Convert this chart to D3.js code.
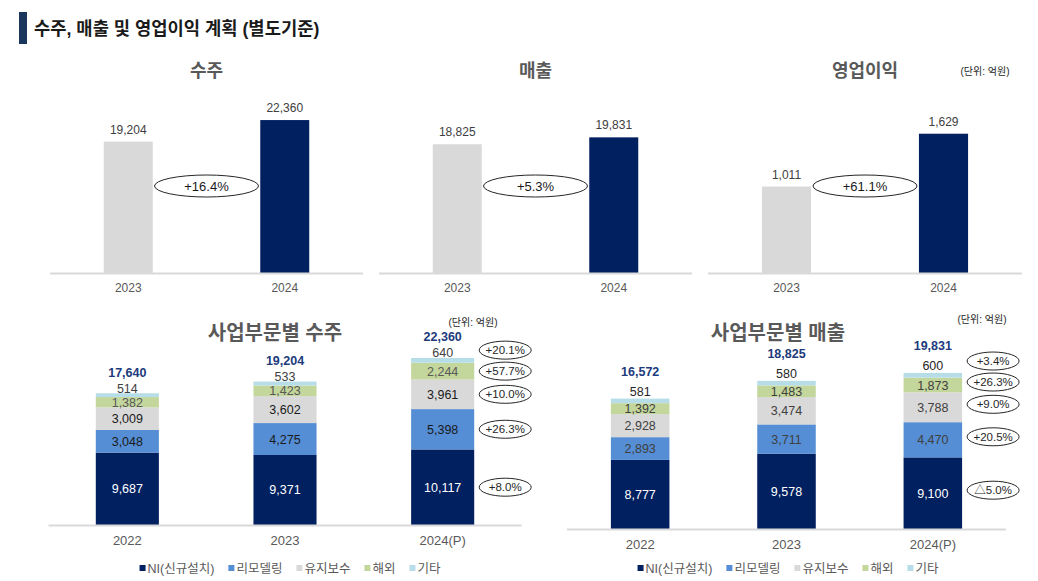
<!DOCTYPE html>
<html lang="ko">
<head>
    <meta charset="UTF-8">
    <title>수주, 매출 및 영업이익 계획</title>
    <script src="https://d3js.org/d3.v7.min.js"></script>
    <style>
        body { margin: 0; background: #fff; }
        text { font-family: "Liberation Sans", Arial, "Noto Sans CJK KR", sans-serif; }
    </style>
</head>
<body>
    <script>

    // top charts: 2023 vs 2024
    const topYears = ["2023", "2024"];
    const topTitles = ["수주", "매출", "영업이익"];
    const orderTop = [19204, 22360];
    const salesTop = [18825, 19831];
    const opTop = [1011, 1629];
    const topGrowth = ["+16.4%", "+5.3%", "+61.1%"];

    // bottom charts: by business segment
    const segYears = ["2022", "2023", "2024(P)"];
    const segNames = ["NI(신규설치)", "리모델링", "유지보수", "해외", "기타"];
    const segColors = ["#002060", "#558ED5", "#D9D9D9", "#C3D69B", "#B7DEE8"];

    const orderNI = [9687, 9371, 10117];
    const orderRemodel = [3048, 4275, 5398];
    const orderMaint = [3009, 3602, 3961];
    const orderOverseas = [1382, 1423, 2244];
    const orderEtc = [514, 533, 640];
    const orderTotals = [17640, 19204, 22360];
    const orderGrowth = ["+8.0%", "+26.3%", "+10.0%", "+57.7%", "+20.1%"];

    const salesNI = [8777, 9578, 9100];
    const salesRemodel = [2893, 3711, 4470];
    const salesMaint = [2928, 3474, 3788];
    const salesOverseas = [1392, 1483, 1873];
    const salesEtc = [581, 580, 600];
    const salesTotals = [16572, 18825, 19831];
    const salesGrowth = ["△5.0%", "+20.5%", "+9.0%", "+26.3%", "+3.4%"];

    const fmt = d3.format(",");

    var svg = d3.select("body")
        .append("svg")
        .attr("width", 1038)
        .attr("height", 581);

    // page title
    svg.append("rect")
        .attr("x", 19).attr("y", 12)
        .attr("width", 8).attr("height", 32)
        .attr("fill", "#1B365D");

    svg.append("text")
        .attr("x", 34).attr("y", 35)
        .attr("font-size", 17.7)
        .attr("font-weight", "bold")
        .attr("fill", "#1a1a1a")
        .text("수주, 매출 및 영업이익 계획 (별도기준)");

    //---------- top three charts ----------
    const topPanels = [
        { values: orderTop, range: [50, 363], max: 25000 },
        { values: salesTop, range: [379, 692], max: 25000 },
        { values: opTop, range: [708, 1022], max: 2000 }
    ];

    topPanels.forEach(function (p, i) {
        var x = d3.scaleBand()
            .domain(topYears)
            .range(p.range)
            .paddingInner(0.687)
            .paddingOuter(0.3435);

        var y = d3.scaleLinear()
            .domain([0, p.max])
            .range([273, 102]);

        var g = svg.append("g");
        var cx = (p.range[0] + p.range[1]) / 2;

        g.append("text")
            .attr("x", cx).attr("y", 77)
            .attr("text-anchor", "middle")
            .attr("font-size", 18)
            .attr("font-weight", "bold")
            .attr("fill", "#595959")
            .text(topTitles[i]);

        g.selectAll(".bar")
            .data(p.values)
            .enter()
            .append("rect")
            .attr("x", (d, j) => x(topYears[j]))
            .attr("y", d => y(d))
            .attr("width", x.bandwidth())
            .attr("height", d => y(0) - y(d))
            .attr("fill", (d, j) => j == 0 ? "#D9D9D9" : "#002060");

        g.selectAll(".val")
            .data(p.values)
            .enter()
            .append("text")
            .attr("x", (d, j) => x(topYears[j]) + x.bandwidth() / 2)
            .attr("y", d => y(d) - 8)
            .attr("text-anchor", "middle")
            .attr("font-size", 12)
            .attr("fill", "#404040")
            .text(d => fmt(d));

        // baseline
        g.append("line")
            .attr("x1", p.range[0]).attr("x2", p.range[1])
            .attr("y1", y(0) + 0.5).attr("y2", y(0) + 0.5)
            .attr("stroke", "#D9D9D9")
            .attr("stroke-width", 2);

        var axis = d3.axisBottom(x).tickSize(0).tickPadding(10);
        var ax = g.append("g")
            .attr("transform", "translate(0," + y(0) + ")")
            .call(axis);
        ax.select(".domain").remove();
        ax.selectAll("text")
            .attr("font-size", 12)
            .attr("fill", "#595959")
            .style("font-family", "\"Liberation Sans\", Arial, sans-serif");

        // growth bubble
        var ey = 186;
        g.append("ellipse")
            .attr("cx", cx).attr("cy", ey)
            .attr("rx", 52).attr("ry", 11)
            .attr("fill", "#fff")
            .attr("stroke", "#262626")
            .attr("stroke-width", 1);
        g.append("text")
            .attr("x", cx).attr("y", ey)
            .attr("dy", "0.36em")
            .attr("text-anchor", "middle")
            .attr("font-size", 13)
            .attr("fill", "#1a1a1a")
            .text(topGrowth[i]);
    });

    svg.append("text")
        .attr("x", 985).attr("y", 75)
        .attr("text-anchor", "middle")
        .attr("font-size", 10)
        .attr("fill", "#262626")
        .text("(단위: 억원)");

    //---------- bottom stacked charts ----------
    function drawStack(cfg) {
        var x = d3.scaleBand()
            .domain(segYears)
            .range(cfg.range)
            .paddingInner(0.6)
            .paddingOuter(0.3);

        var y = d3.scaleLinear()
            .domain([0, 25000])
            .range(cfg.yRange);

        var rows = segYears.map(function (yr, j) {
            var r = { year: yr };
            segNames.forEach((s, k) => r[s] = cfg.series[k][j]);
            return r;
        });

        var stacked = d3.stack().keys(segNames)(rows);

        var g = svg.append("g");

        g.append("text")
            .attr("x", cfg.titleX).attr("y", 340)
            .attr("text-anchor", "middle")
            .attr("font-size", 20)
            .attr("font-weight", "bold")
            .attr("fill", "#595959")
            .text(cfg.title);

        g.append("text")
            .attr("x", cfg.unitX).attr("y", cfg.unitY)
            .attr("text-anchor", "middle")
            .attr("font-size", 10)
            .attr("fill", "#262626")
            .text("(단위: 억원)");

        var layers = g.selectAll(".layer")
            .data(stacked)
            .enter()
            .append("g")
            .attr("fill", (d, k) => segColors[k]);

        layers.selectAll("rect")
            .data(d => d)
            .enter()
            .append("rect")
            .attr("x", d => x(d.data.year))
            .attr("y", d => y(d[1]))
            .attr("width", x.bandwidth())
            .attr("height", d => y(d[0]) - y(d[1]));

        // segment labels (기타 goes above the bar)
        stacked.forEach(function (layer, k) {
            g.selectAll(".lbl" + k)
                .data(layer)
                .enter()
                .append("text")
                .attr("x", d => x(d.data.year) + x.bandwidth() / 2)
                .attr("y", function (d) {
                    if (k == 4) return y(d[1]) - cfg.etcGap;
                    return (y(d[0]) + y(d[1])) / 2;
                })
                .attr("dy", "0.36em")
                .attr("text-anchor", "middle")
                .attr("font-size", 12.5)
                .attr("fill", cfg.labelColors[k])
                .text(d => fmt(d[1] - d[0]));
        });

        // totals
        g.selectAll(".total")
            .data(cfg.totals)
            .enter()
            .append("text")
            .attr("x", (d, j) => x(segYears[j]) + x.bandwidth() / 2)
            .attr("y", (d, j) => y(stacked[4][j][1]) - cfg.totalGap)
            .attr("dy", "0.36em")
            .attr("text-anchor", "middle")
            .attr("font-size", 12.5)
            .attr("font-weight", "bold")
            .attr("fill", "#203A7C")
            .text(d => fmt(d));

        // baseline
        g.append("line")
            .attr("x1", cfg.range[0]).attr("x2", cfg.range[1])
            .attr("y1", y(0) + 0.5).attr("y2", y(0) + 0.5)
            .attr("stroke", "#D9D9D9")
            .attr("stroke-width", 2);

        var ax = g.append("g")
            .attr("transform", "translate(0," + y(0) + ")")
            .call(d3.axisBottom(x).tickSize(0).tickPadding(11));
        ax.select(".domain").remove();
        ax.selectAll("text")
            .attr("font-size", 13)
            .attr("fill", "#595959")
            .style("font-family", "\"Liberation Sans\", Arial, sans-serif");

        // growth bubbles next to the last bar, pushed apart going upward
        var last = segYears.length - 1;
        var bx = x(segYears[last]) + x.bandwidth() + 31;
        var ys = [];
        stacked.forEach(function (layer, k) {
            var c = (y(layer[last][0]) + y(layer[last][1])) / 2 + cfg.bubbleShift;
            if (k > 0 && c > ys[k - 1] - 21) c = ys[k - 1] - 21;
            ys.push(c);
        });

        var bubbles = g.selectAll(".bubble")
            .data(cfg.growth)
            .enter()
            .append("g")
            .attr("transform", (d, k) => "translate(" + bx + "," + ys[k] + ")");

        bubbles.append("ellipse")
            .attr("rx", 26).attr("ry", 9)
            .attr("fill", "#fff")
            .attr("stroke", "#262626")
            .attr("stroke-width", 1);

        bubbles.append("text")
            .attr("dy", "0.36em")
            .attr("text-anchor", "middle")
            .attr("font-size", 11.5)
            .attr("fill", "#262626")
            .text(d => d);

        // legend
        var legend = g.append("g");
        var lx = 0;
        segNames.forEach(function (s, k) {
            var item = legend.append("g").attr("transform", "translate(" + lx + ",0)");
            item.append("rect")
                .attr("x", 0).attr("y", -3)
                .attr("width", 6).attr("height", 6)
                .attr("fill", segColors[k]);
            var t = item.append("text")
                .attr("x", 8).attr("y", 0)
                .attr("dy", "0.36em")
                .attr("font-size", 12.5)
                .attr("fill", "#595959")
                .text(s);
            lx += 8 + t.node().getComputedTextLength() + 14;
        });
        legend.attr("transform", "translate(" + (cfg.legendX - (lx - 14) / 2) + ",568)");
    }

    drawStack({
        title: "사업부문별 수주",
        titleX: 275,
        unitX: 473, unitY: 326,
        range: [48.5, 521.5],
        yRange: [525, 338.25],
        series: [orderNI, orderRemodel, orderMaint, orderOverseas, orderEtc],
        totals: orderTotals,
        growth: orderGrowth,
        labelColors: ["#ffffff", "#1a1a1a", "#1a1a1a", "#595959", "#404040"],
        etcGap: 5,
        totalGap: 21,
        bubbleShift: 0,
        legendX: 290
    });

    drawStack({
        title: "사업부문별 매출",
        titleX: 778,
        unitX: 982, unitY: 323,
        range: [567, 1006],
        yRange: [529, 332.25],
        series: [salesNI, salesRemodel, salesMaint, salesOverseas, salesEtc],
        totals: salesTotals,
        growth: salesGrowth,
        labelColors: ["#ffffff", "#404040", "#404040", "#404040", "#262626"],
        etcGap: 7,
        totalGap: 27,
        bubbleShift: -3,
        legendX: 788
    });

    </script>
</body>
</html>
